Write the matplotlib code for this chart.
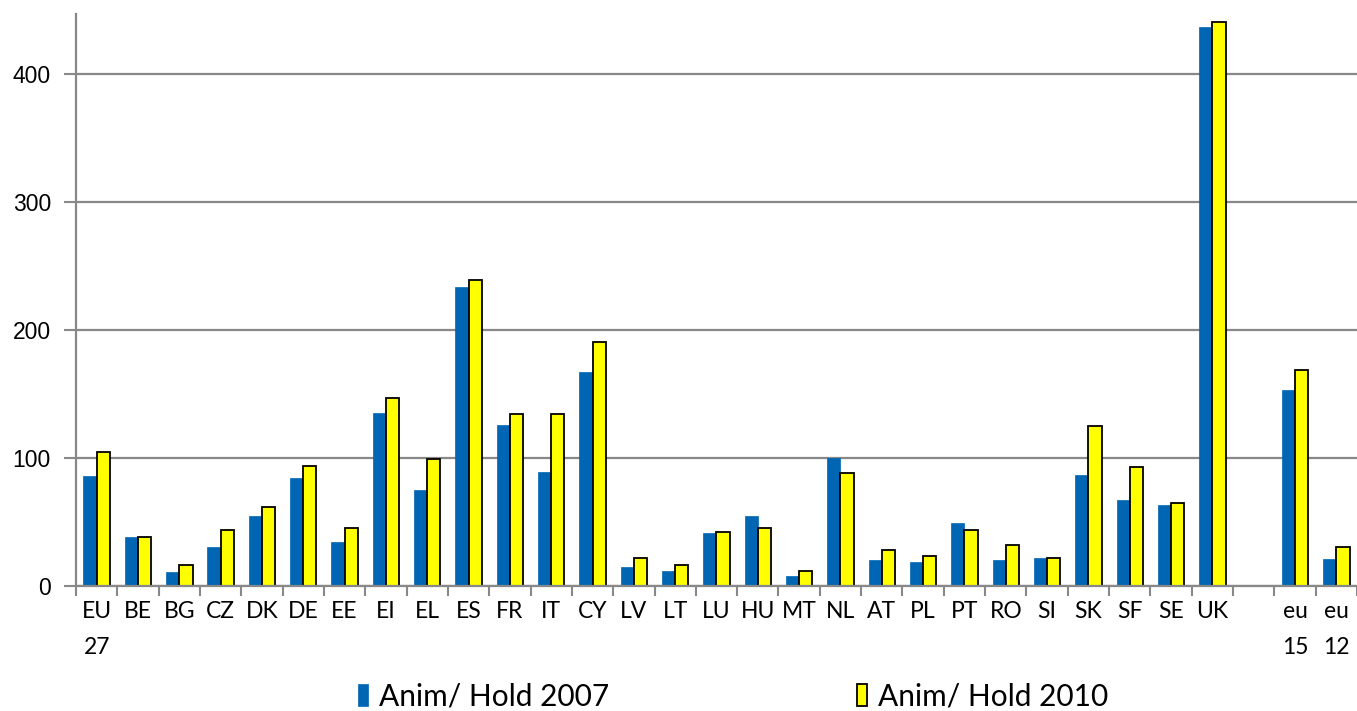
"""Animals per holding, 2007 vs 2010, by member state."""

import numpy as np
import matplotlib.pyplot as plt
from matplotlib.ticker import FixedLocator

categories = ['EU\n27', 'BE', 'BG', 'CZ', 'DK', 'DE', 'EE', 'EI', 'EL', 'ES',
              'FR', 'IT', 'CY', 'LV', 'LT', 'LU', 'HU', 'MT', 'NL', 'AT',
              'PL', 'PT', 'RO', 'SI', 'SK', 'SF', 'SE', 'UK', '',
              'eu\n15', 'eu\n12']
hold_2007 = [86, 38, 11, 30, 55, 84, 34, 135, 75, 234,
             126, 89, 167, 15, 12, 41, 55, 8, 100, 20,
             19, 49, 20, 22, 87, 67, 63, 437, np.nan,
             153, 21]
hold_2010 = [105, 38, 16, 44, 62, 94, 45, 147, 99, 239,
             134, 134, 191, 22, 16, 42, 45, 12, 88, 28,
             23, 44, 32, 22, 125, 93, 65, 441, np.nan,
             169, 30]
yticks = [0, 100, 200, 300, 400]

BLUE = '#0066b3'
YELLOW = '#ffff00'
GREY = '#888888'


def main():
    fig = plt.figure(figsize=(13.57, 7.11), dpi=100)
    ax = fig.add_axes([0.056, 0.176, 0.944, 0.804])

    x = np.arange(len(categories))
    w = 0.32
    b1 = ax.bar(x - w / 2, hold_2007, w, color=BLUE, edgecolor=BLUE,
                linewidth=0.5, zorder=3, label='Anim/ Hold 2007')
    b2 = ax.bar(x + w / 2, hold_2010, w, color=YELLOW, edgecolor='black',
                linewidth=1.3, zorder=3, label='Anim/ Hold 2010')

    ax.set_xlim(-0.5, len(categories) - 0.5)
    ax.set_ylim(0, 447)
    ax.set_yticks(yticks)
    ax.yaxis.grid(True, color=GREY, linewidth=1.6, zorder=0)

    ax.set_xticks(x)
    ax.set_xticklabels(categories, fontsize=16.5, family='Lato',
                       linespacing=1.9, va='top')
    ax.xaxis.set_minor_locator(FixedLocator(np.arange(len(categories) + 1) - 0.5))
    ax.tick_params(axis='x', which='major', length=0, pad=11)
    ax.tick_params(axis='x', which='minor', length=7, width=1.5, color=GREY)
    ax.tick_params(axis='y', length=9, width=1.5, color=GREY, labelsize=16.5,
                   pad=9)
    for lab in ax.get_yticklabels():
        lab.set_family('Liberation Sans')

    for side in ('top', 'right'):
        ax.spines[side].set_visible(False)
    for side in ('left', 'bottom'):
        ax.spines[side].set_color(GREY)
        ax.spines[side].set_linewidth(1.6)
    ax.spines['bottom'].set_zorder(4)

    fig.legend(handles=[b1, b2], loc='center', bbox_to_anchor=(0.54, 0.02),
               ncol=2, frameon=False, columnspacing=8.3, handlelength=0.35,
               handleheight=0.75, handletextpad=0.35,
               prop={'family': 'Lato', 'size': 21.5})

    fig.savefig('out.png', dpi=100)


if __name__ == '__main__':
    main()
